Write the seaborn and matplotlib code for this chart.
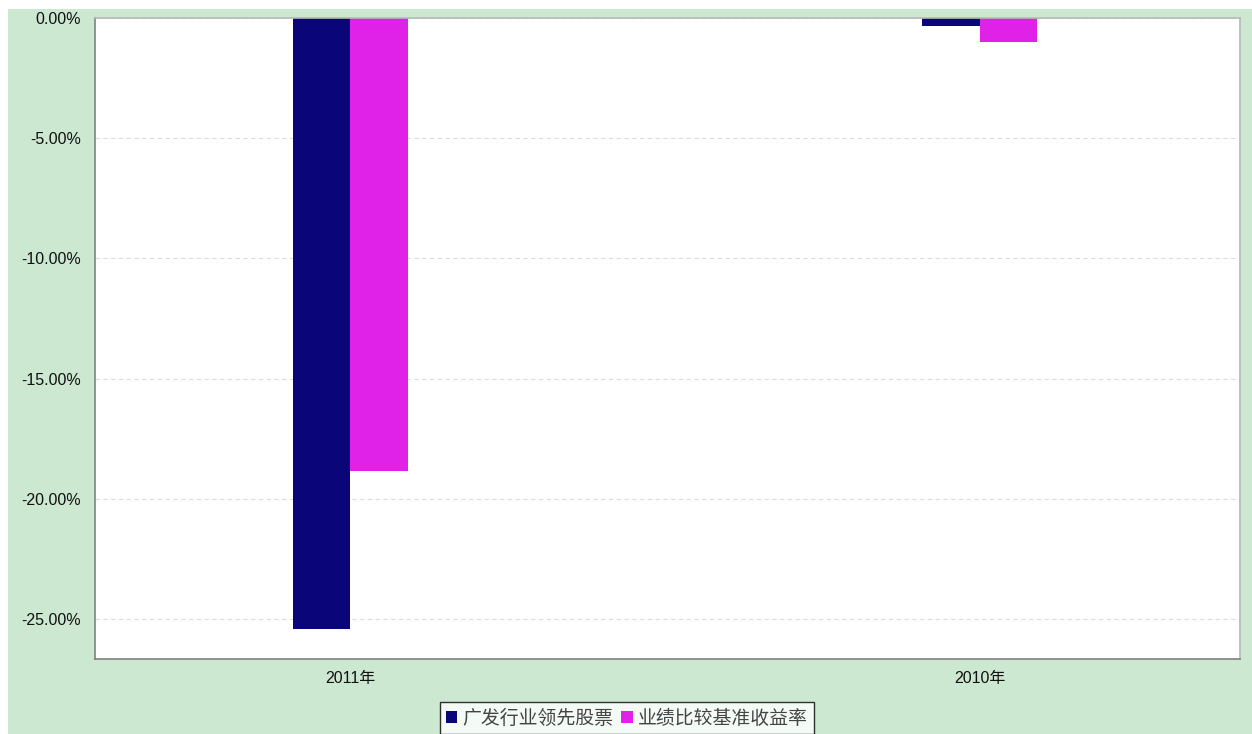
import matplotlib
matplotlib.use("Agg")
import matplotlib.pyplot as plt
from matplotlib.patches import Rectangle, Patch
import seaborn as sns
import pandas as pd

# 数据
years = ['2011年', '2010年']
fund_name = '广发行业领先股票'
bench_name = '业绩比较基准收益率'
fund_ret = [-25.42, -0.32]
bench_ret = [-18.84, -1.00]
yticks = [0, -5, -10, -15, -20, -25]

colors = ['#0a0578', '#e022e8']

df = pd.DataFrame({
    '年份': years * 2,
    '收益率': fund_ret + bench_ret,
    '系列': [fund_name] * 2 + [bench_name] * 2,
})

sns.set_style('white')
plt.rcParams['font.family'] = ['Liberation Sans', 'Noto Sans CJK SC', 'DejaVu Sans']

fig = plt.figure(figsize=(12.52, 7.34), dpi=100)
fig.patch.set_facecolor('white')
# 绿色背景
fig.patches.append(Rectangle((8 / 1252, 0), 1 - 8 / 1252, 1 - 9 / 734,
                             transform=fig.transFigure, facecolor='#cde8d0',
                             edgecolor='none', zorder=-10))

ax = fig.add_axes([95 / 1252, 1 - 659 / 734, (1240 - 95) / 1252, (659 - 18) / 734])
ax.set_facecolor('white')

sns.barplot(data=df, x='年份', y='收益率', hue='系列', order=years,
            hue_order=[fund_name, bench_name], palette=colors,
            width=0.182, dodge=True, gap=0, saturation=1,
            edgecolor='none', ax=ax, legend=False)

ax.set_xlim(-0.406, 1.414)
ax.set_ylim(-26.67, 0)
ax.set_yticks(yticks)
ax.set_yticklabels(['%.2f%%' % v for v in yticks], fontsize=11.5)
ax.tick_params(axis='y', length=4, color='#808080', pad=6, labelcolor='#111111')
ax.tick_params(axis='x', length=0, pad=9, labelsize=11.5, labelcolor='#111111')
ax.set_xlabel('')
ax.set_ylabel('')
ax.yaxis.grid(True, linestyle=(0, (4, 3)), color='#dddddd', linewidth=0.8)
ax.set_axisbelow(True)

for s in ['left', 'bottom']:
    ax.spines[s].set_color('#808080')
    ax.spines[s].set_linewidth(1.2)
for s in ['top', 'right']:
    ax.spines[s].set_color('#b8b8b8')
    ax.spines[s].set_linewidth(1.2)

handles = [Patch(facecolor=c, edgecolor='none') for c in colors]
leg = fig.legend(handles, [fund_name, bench_name], loc='upper left',
                 bbox_to_anchor=(440 / 1252, 1 - 702 / 734), ncol=2,
                 frameon=True, fancybox=False,
                 handlelength=0.6, handleheight=0.6, handletextpad=0.3,
                 columnspacing=0.4, borderpad=0.3, borderaxespad=0,
                 prop={'family': ['Noto Sans CJK SC'], 'size': 13.6})
leg.get_frame().set_edgecolor('black')
leg.get_frame().set_linewidth(1)
leg.get_frame().set_facecolor('white')
for t in leg.get_texts():
    t.set_color('#444444')

fig.savefig('out.png', dpi=100)
